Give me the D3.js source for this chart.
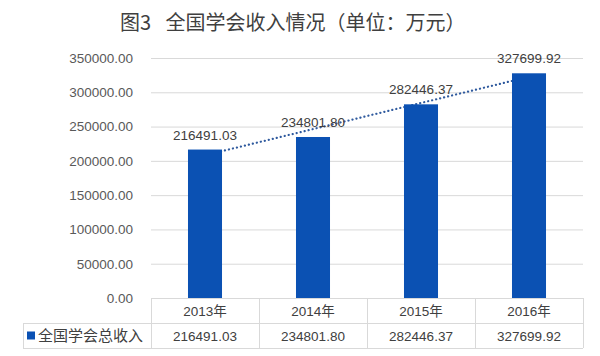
<!DOCTYPE html>
<html><head><meta charset="utf-8">
<script src="https://cdn.jsdelivr.net/npm/d3@7"></script>
<style>body{margin:0;background:#fff;}svg{display:block;}</style>
</head><body>
<script>
const title = "图3\u2002\u00a0全国学会收入情况（单位：万元）";
const categories = ["2013年","2014年","2015年","2016年"];
const seriesName = "全国学会总收入";
const values = [216491.03, 234801.80, 282446.37, 327699.92];
const yTicks = [0,50000,100000,150000,200000,250000,300000,350000];

const W=600,H=356;
const plotLeft=151,plotRight=583,plotTop=58,plotBottom=298;
const rowH=25;
const numFont = "'Liberation Sans','Noto Sans CJK SC',sans-serif";
const cjkFont = "'Noto Sans CJK SC','Liberation Sans',sans-serif";
const barColor = "#0b51b3";
const gridColor = "#d9d9d9";

const svg=d3.select("body").append("svg").attr("width",W).attr("height",H);

svg.append("text").attr("x",120).attr("y",30).attr("text-anchor","start")
  .attr("font-family",cjkFont).attr("font-size",20).attr("fill","#3f3f3f").text(title);

const x=d3.scaleBand().domain(categories).range([plotLeft,plotRight]).paddingInner(0.685).paddingOuter(0.3425);
const xc=d3.scalePoint().domain(categories).range([plotLeft,plotRight]).padding(0.5);
const y=d3.scaleLinear().domain([0,350000]).range([plotBottom,plotTop]);

// gridlines
svg.append("g").selectAll("line").data(yTicks.slice(1)).join("line")
  .attr("x1",plotLeft).attr("x2",plotRight).attr("y1",d=>y(d)+0.5).attr("y2",d=>y(d)+0.5)
  .attr("stroke",gridColor).attr("stroke-width",1);

// y axis labels
const yAxis=d3.axisLeft(y).tickValues(yTicks).tickFormat(d3.format(".2f")).tickSize(0).tickPadding(18);
const ga=svg.append("g").attr("transform",`translate(${plotLeft},0)`).call(yAxis);
ga.select(".domain").remove();
ga.selectAll("text").attr("font-family",numFont).attr("font-size",13.5).attr("fill","#595959");

// linear trendline (least squares)
const n=values.length, xs=d3.range(n);
const mx=d3.mean(xs), my=d3.mean(values);
const slope=d3.sum(xs,i=>(i-mx)*(values[i]-my))/d3.sum(xs,i=>(i-mx)*(i-mx));
const icpt=my-slope*mx;
svg.append("line")
  .attr("x1",xc(categories[0])).attr("y1",y(icpt))
  .attr("x2",xc(categories[n-1])).attr("y2",y(icpt+slope*(n-1)))
  .attr("stroke","#2f5a9e").attr("stroke-width",2.2).attr("stroke-dasharray","0.1,4").attr("stroke-linecap","round");

// bars
svg.append("g").selectAll("rect").data(values).join("rect")
  .attr("x",(d,i)=>x(categories[i])).attr("width",x.bandwidth())
  .attr("y",d=>y(d)).attr("height",d=>plotBottom-y(d)).attr("fill",barColor);

// data labels
svg.append("g").selectAll("text").data(values).join("text")
  .attr("x",(d,i)=>xc(categories[i])).attr("y",d=>y(d)-10)
  .attr("text-anchor","middle").attr("font-family",numFont).attr("font-size",13.5).attr("fill","#404040")
  .text(d=>d3.format(".2f")(d));

// data table
const tg=svg.append("g").attr("stroke",gridColor).attr("stroke-width",1).attr("fill","none");
tg.append("line").attr("x1",plotLeft).attr("x2",plotRight).attr("y1",plotBottom+0.5).attr("y2",plotBottom+0.5);
tg.append("line").attr("x1",23).attr("x2",plotRight).attr("y1",plotBottom+rowH+0.5).attr("y2",plotBottom+rowH+0.5);
tg.append("line").attr("x1",23).attr("x2",plotRight).attr("y1",plotBottom+2*rowH+0.5).attr("y2",plotBottom+2*rowH+0.5);
tg.append("line").attr("x1",23.5).attr("x2",23.5).attr("y1",plotBottom+rowH).attr("y2",plotBottom+2*rowH);
const bounds=[plotLeft].concat(categories.map(c=>xc(c)+xc.step()/2));
tg.selectAll("line.v").data(bounds).join("line").attr("class","v")
  .attr("x1",d=>Math.round(d)+0.5).attr("x2",d=>Math.round(d)+0.5).attr("y1",plotBottom).attr("y2",plotBottom+2*rowH);

svg.append("g").selectAll("text").data(categories).join("text")
  .attr("x",d=>xc(d)).attr("y",plotBottom+rowH/2+5).attr("text-anchor","middle")
  .attr("font-family",numFont).attr("font-size",13.5).attr("fill","#404040").text(d=>d);
svg.append("g").selectAll("text").data(values).join("text")
  .attr("x",(d,i)=>xc(categories[i])).attr("y",plotBottom+rowH*1.5+5).attr("text-anchor","middle")
  .attr("font-family",numFont).attr("font-size",13.5).attr("fill","#404040").text(d=>d3.format(".2f")(d));

// legend in table
svg.append("rect").attr("x",27).attr("y",plotBottom+rowH*1.5-4).attr("width",8).attr("height",8).attr("fill",barColor);
svg.append("text").attr("x",38).attr("y",plotBottom+rowH*1.5+5.5)
  .attr("font-family",cjkFont).attr("font-size",15).attr("fill","#404040").text(seriesName);
</script>
</body></html>
